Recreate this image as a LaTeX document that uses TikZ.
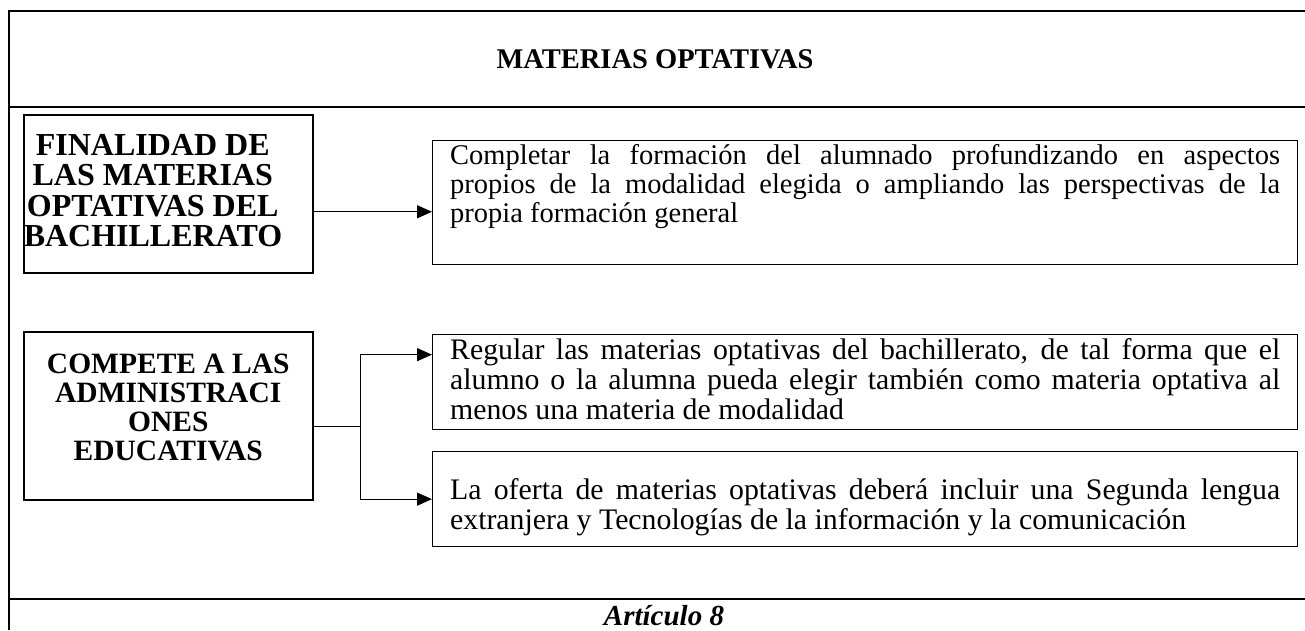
\documentclass[tikz,border=0pt]{standalone}
\usepackage{fontspec}
\setmainfont{Liberation Serif}
\usetikzlibrary{arrows.meta}
\tikzset{
    frameline/.style={line width=2.3pt},
    headbox/.style={draw, line width=1.5pt, anchor=north west, inner ysep=4pt, font=\bfseries},
    bodybox/.style={draw, line width=1.3pt, anchor=north west, inner xsep=17.5pt, inner ysep=4pt, font=\fontsize{29.8}{27}\selectfont},
    arrowline/.style={line width=1.3pt, -{Triangle[length=15pt,width=13pt]}}
}
\newcommand{\fillline}[1]{\makebox[\linewidth][s]{\strut #1}\\}

\begin{document}
\begin{tikzpicture}[x=1pt, y=-1pt]
    \useasboundingbox (0,0) rectangle (1305,630);
    \draw[frameline] (9,630) -- (9,11) -- (1305,11);
    \draw[frameline] (9,107) -- (1305,107);
    \draw[frameline] (9,599) -- (1305,599);

    \node[font=\fontsize{28.5}{30}\selectfont\bfseries, anchor=base] (titulo) at (655,68) {MATERIAS OPTATIVAS};
    \node[font=\fontsize{29}{30}\selectfont\bfseries\itshape, anchor=base] (articulo) at (664,625) {Artículo 8};

    \node[headbox, inner xsep=0pt] (fin) at (23,114) {\parbox[c][150pt][t]{258pt}{\fontsize{32}{30.6}\selectfont\centering\vspace*{15pt}\strut FINALIDAD DE\\ LAS MATERIAS\\ OPTATIVAS DEL\\ BACHILLERATO}\hspace*{31pt}};
    \node[headbox, inner xsep=10pt] (com) at (23,331) {\parbox[c][160pt][t]{269pt}{\fontsize{29.5}{29}\selectfont\centering\vspace*{17pt}\strut COMPETE A LAS\\ ADMINISTRACI\\ ONES\\ EDUCATIVAS}};

    \node[bodybox, font=\fontsize{28.5}{27}\selectfont] (cmp) at (432,140) {\parbox[c][116pt][t]{830pt}{\fillline{Completar la formación del alumnado profundizando en aspectos}\fillline{propios de la modalidad elegida o ampliando las perspectivas de la}\strut propia formación general}};
    \node[bodybox] (reg) at (432,334) {\parbox[c][87pt][t]{830pt}{\fillline{Regular las materias optativas del bachillerato, de tal forma que el}\fillline{alumno o la alumna pueda elegir también como materia optativa al}\strut menos una materia de modalidad}};
    \node[bodybox] (ofe) at (432,451) {\parbox[c][87pt][t]{830pt}{\vspace*{23pt}\fillline{La oferta de materias optativas deberá incluir una Segunda lengua}\strut extranjera y Tecnologías de la información y la comunicación}};

    \coordinate (finout) at ([yshift=-18pt]fin.east);
    \draw[arrowline] (finout) -- (finout -| cmp.west);

    \coordinate (comout) at ([yshift=-11pt]com.east);
    \coordinate (split) at ([xshift=47pt]comout);
    \draw[line width=1.3pt] (comout) -- (split);
    \draw[arrowline] (split) |- ([yshift=27.5pt]reg.west);
    \draw[arrowline] (split) |- (ofe.west);
\end{tikzpicture}
\end{document}
